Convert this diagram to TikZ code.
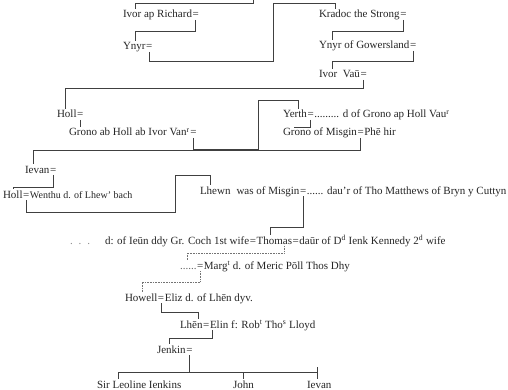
\documentclass[tikz,border=0pt]{standalone}
\usepackage{fontspec}
\setmainfont{Liberation Serif}
\begin{document}
\begin{tikzpicture}[x=1pt,y=-1pt,
  t/.style={anchor=base west,inner sep=0pt,outer sep=0pt,font=\fontsize{11}{12}\selectfont,text=black!85},
  eq/.style={t,inner xsep=0.6pt},
  ln/.style={draw=black!75,line width=0.6pt},
  dl/.style={draw=black!55,line width=0.6pt,densely dotted}]
\fill[white] (0,0) rectangle (508,390);
\useasboundingbox (0,0) rectangle (508,390);
% ---------- text ----------
\node[t] (ivorR) at (123,18) {Ivor ap Richard};
\node[eq] (eIR) at (ivorR.base east) {=};
\node[t] (kradoc) at (319,18) {Kradoc the Strong};
\node[eq] (eK) at (kradoc.base east) {=};
\node[t] (ynyr) at (123,50) {Ynyr};
\node[eq] (eY) at (ynyr.base east) {=};
\node[t] (ynyrG) at (319,49) {Ynyr of Gowersland};
\node[eq] (eYG) at (ynyrG.base east) {=};
\node[t] (ivorV) at (319,78) {Ivor\ \ Vaū};
\node[eq] (eIV) at (ivorV.base east) {=};
\node[t] (holl) at (57,118) {Holl};
\node[eq] (eH) at (holl.base east) {=};
\node[t] (grono) at (69,136) {Grono ab Holl ab Ivor Van\textsuperscript{r}};
\node[eq] (eG) at (grono.base east) {=};
\node[t] (yerth) at (283,118) {Yerth};
\node[eq] (eYe) at (yerth.base east) {=};
\node[t] (yerthW) at (eYe.base east) {......... d of Grono ap Holl Vau\textsuperscript{r}};
\node[t] (gronoM) at (283,136) {Grono of Misgin};
\node[eq] (eGM) at (gronoM.base east) {=};
\node[t] (phe) at (eGM.base east) {Phē hir};
\node[t] (ievan) at (25,173) {Ievan};
\node[eq] (eIe) at (ievan.base east) {=};
\node[t] (holl2) at (3,198) {Holl};
\node[eq] (eH2) at (holl2.base east) {=};
\node[t,font=\fontsize{10}{11}\selectfont] (wenthu) at (eH2.base east) {Wenthu d. of Lhew' bach};
\node[t] (lhewn) at (200,194) {Lhewn\hspace{6pt}was of Misgin};
\node[eq] (eL) at (lhewn.base east) {=};
\node[t] (dau) at (eL.base east) {...... dau'r of Tho Matthews of Bryn y Cuttyn};
\node[t,text=black!45] (fdots) at (70,244) {.\hspace{6pt}.\hspace{6pt}.};
\node[t] (wife1) at (105,244) {d: of Ieūn ddy Gr. Coch 1st wife};
\node[eq] (eT1) at (wife1.base east) {=};
\node[t] (thomas) at (eT1.base east) {Thomas};
\node[eq] (eT2) at (thomas.base east) {=};
\node[t] (wife2) at (eT2.base east) {daūr of D\textsuperscript{d} Ienk Kennedy 2\textsuperscript{d} wife};
\node[t,text=black!60] (mdots) at (180,269) {\vphantom{M}......};
\node[eq] (eM) at (mdots.base east) {=};
\node[t] (marg) at (eM.base east) {Marg\textsuperscript{t} d. of Meric Pōll Thos Dhy};
\node[t] (howell) at (125,301) {Howell};
\node[eq] (eHo) at (howell.base east) {=};
\node[t] (eliz) at (eHo.base east) {Eliz d. of Lhēn dyv.};
\node[t] (lhen) at (180,328) {Lhēn};
\node[eq] (eLh) at (lhen.base east) {=};
\node[t] (elin) at (eLh.base east) {Elin f: Rob\textsuperscript{t} Tho\textsuperscript{s} Lloyd};
\node[t] (jenkin) at (157,353) {Jenkin};
\node[eq] (eJ) at (jenkin.base east) {=};
\node[t] (sir) at (97,388) {Sir Leoline Ienkins};
\node[t] (john) at (233,388) {John};
\node[t] (ievan2) at (307,388) {Ievan};
% ---------- connectors ----------
\coordinate (topc) at (253,-1);
\draw[ln] (topc) -- (253,3) -| ([xshift=12pt,yshift=1.5pt]ivorR.north west);
\draw[ln] ([yshift=-2pt]eIR.south) -- (eIR.south |- 0,31) -| ([xshift=12pt,yshift=1.5pt]ynyr.north west);
\draw[ln] ([yshift=-2pt]eY.south) -- (eY.south |- 0,61) -- (273,61) -- (273,3) -| ([xshift=16pt,yshift=1.5pt]kradoc.north west);
\draw[ln] ([yshift=-2pt]eK.south) -- (eK.south |- 0,31) -| ([xshift=13pt,yshift=1.5pt]ynyrG.north west);
\draw[ln] ([yshift=-2pt]eYG.south) -- (eYG.south |- 0,61) -| ([xshift=13pt,yshift=1.5pt]ivorV.north west);
\draw[ln] ([yshift=-2pt]eIV.south) -- (eIV.south |- 0,88) -| ([xshift=8pt,yshift=1.5pt]holl.north west);
\path ([yshift=1.5pt]grono.north) coordinate (gtop);
\draw[ln] ([yshift=-2pt]eH.south) -- (eH.south |- gtop);
\draw[ln] ([yshift=-2pt]eG.south) -- (eG.south |- 0,149) -- (258,149) -- (258,100) -| ([xshift=15pt,yshift=1.5pt]yerth.north west);
\draw[ln] ([yshift=-2pt]eYe.south) -- (eYe.south |- 0,127) -| ([xshift=11pt,yshift=1.5pt]gronoM.north west);
\draw[ln] ([yshift=-2pt]eGM.south) -- (eGM.south |- 0,150) -| ([xshift=8pt,yshift=1.5pt]ievan.north west);
\draw[ln] ([yshift=-2pt]eIe.south) -- (eIe.south |- 0,187) -| ([xshift=10pt,yshift=1.5pt]holl2.north west);
\draw[ln] ([yshift=-2pt]eH2.south) -- (eH2.south |- 0,212) -- (175,212) -- (175,175) -| ([xshift=10pt,yshift=1.5pt]lhewn.north west);
\draw[ln] ([yshift=-2pt]eL.south) -- (eL.south |- 0,227) -| ([xshift=14pt,yshift=1.5pt]thomas.north west);
\path ([xshift=-8pt,yshift=-2pt]thomas.south east) coordinate (ths);
\draw[dl] (ths) -- (ths |- 0,253) -| ([xshift=7pt,yshift=1.5pt]mdots.north west);
\draw[dl] ([yshift=-2pt]eM.south) -- (eM.south |- 0,282) -| ([xshift=17pt,yshift=1.5pt]howell.north west);
\draw[ln] ([yshift=-2pt]eHo.south) -- (eHo.south |- 0,312) -| ([xshift=18pt,yshift=1.5pt]lhen.north west);
\path ([xshift=6pt,yshift=-2pt]eLh.south) coordinate (lhs);
\draw[ln] (lhs) -- (lhs |- 0,338) -| ([xshift=12pt,yshift=1.5pt]jenkin.north west);
\coordinate (bar) at (0,372);
\path ([xshift=21pt,yshift=1.5pt]sir.north west) coordinate (sirT);
\path ([xshift=10pt,yshift=1.5pt]john.north west) coordinate (johnT);
\path ([xshift=10pt,yshift=1.5pt]ievan2.north west) coordinate (ievT);
\draw[ln] ([yshift=-2pt]eJ.south) -- (eJ.south |- bar);
\draw[ln] (sirT) -- (sirT |- bar) -- (ievT |- bar);
\draw[ln] (johnT |- bar) -- (johnT);
\draw[ln] (ievT |- 0,367) -- (ievT);
\end{tikzpicture}
\end{document}
